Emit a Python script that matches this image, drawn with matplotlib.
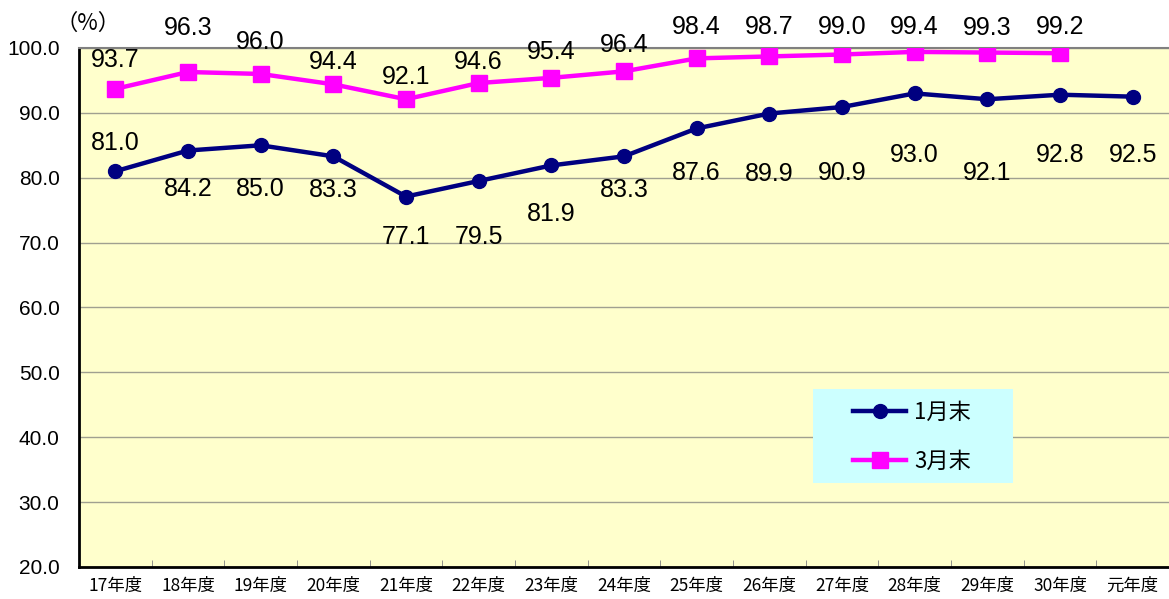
import numpy as np
import matplotlib.pyplot as plt
from matplotlib.patches import Rectangle

plt.rcParams['font.family'] = ['Noto Sans CJK JP', 'DejaVu Sans']

# data
years = ['17年度', '18年度', '19年度', '20年度', '21年度', '22年度', '23年度', '24年度',
         '25年度', '26年度', '27年度', '28年度', '29年度', '30年度', '元年度']
jan = [81.0, 84.2, 85.0, 83.3, 77.1, 79.5, 81.9, 83.3, 87.6, 89.9, 90.9, 93.0, 92.1, 92.8, 92.5]
mar = [93.7, 96.3, 96.0, 94.4, 92.1, 94.6, 95.4, 96.4, 98.4, 98.7, 99.0, 99.4, 99.3, 99.2]

# label offsets in pixels (positive = up)
jan_off = [28, -38, -44, -34, -40, -56, -49, -34, -45, -60, -66, -62, -74, -60, -58]
mar_off = [29, 44, 32, 22, 22, 21, 26, 26, 31, 29, 27, 25, 25, 26]

navy = '#000080'
magenta = '#FF00FF'
num_font = ['Liberation Sans', 'DejaVu Sans']
W, H = 1169, 599

fig = plt.figure(figsize=(W / 100, H / 100), dpi=100)
ax = fig.add_axes([79 / W, 1 - 567 / H, 1 - 79 / W, (567 - 48) / H])
ax.set_facecolor('#FFFFCC')

x = np.arange(len(years))
ax.plot(x, jan, color=navy, lw=3.2, marker='o', ms=10, label='1月末', zorder=3)
ax.plot(x[:len(mar)], mar, color=magenta, lw=3.2, marker='s', ms=12, label='3月末', zorder=3)

for xi, v, o in zip(x, jan, jan_off):
    ax.annotate(f'{v:.1f}', (xi, v), xytext=(0, o), textcoords='offset pixels',
                ha='center', va='center', fontsize=18, family=num_font,
                annotation_clip=False)
for xi, v, o in zip(x, mar, mar_off):
    ax.annotate(f'{v:.1f}', (xi, v), xytext=(0, o), textcoords='offset pixels',
                ha='center', va='center', fontsize=18, family=num_font,
                annotation_clip=False)

ax.set_xlim(-0.5, len(years) - 0.5)
ax.set_ylim(20, 100)
ax.set_yticks(np.arange(20, 101, 10))
ax.set_yticklabels([f'{t:.1f}' for t in np.arange(20, 101, 10)],
                   fontsize=15, family=num_font)
ax.yaxis.grid(True, color='#A0A090', lw=1)
ax.set_axisbelow(True)
ax.tick_params(axis='y', length=0, pad=14)

ax.set_xticks(x)
ax.set_xticklabels(years, fontsize=12.5)
ax.set_xticks(np.arange(0.5, len(years) - 1, 1), minor=True)
ax.tick_params(axis='x', which='major', length=0, pad=7)
ax.tick_params(axis='x', which='minor', direction='in', length=5, color='#808080')

ax.spines['left'].set_linewidth(2)
ax.spines['bottom'].set_linewidth(2)
ax.spines['top'].set_color('#808080')
ax.spines['top'].set_linewidth(1.5)
ax.spines['right'].set_visible(False)

fig.text(88 / W, 1 - 23 / H, '（%）', fontsize=16, va='center', ha='center')

# legend box
fig.patches.append(Rectangle((813 / W, 1 - 483 / H), 200 / W, 94 / H,
                             transform=fig.transFigure, facecolor='#CCFFFF',
                             edgecolor='none', zorder=5))
leg = fig.legend(loc='center left', bbox_to_anchor=(853 / W, 1 - 437 / H),
                 frameon=False, fontsize=16, handlelength=2.4, borderpad=0,
                 labelspacing=1.15, borderaxespad=0, handletextpad=0.35)
leg.set_zorder(6)

fig.savefig('out.png', dpi=100)
